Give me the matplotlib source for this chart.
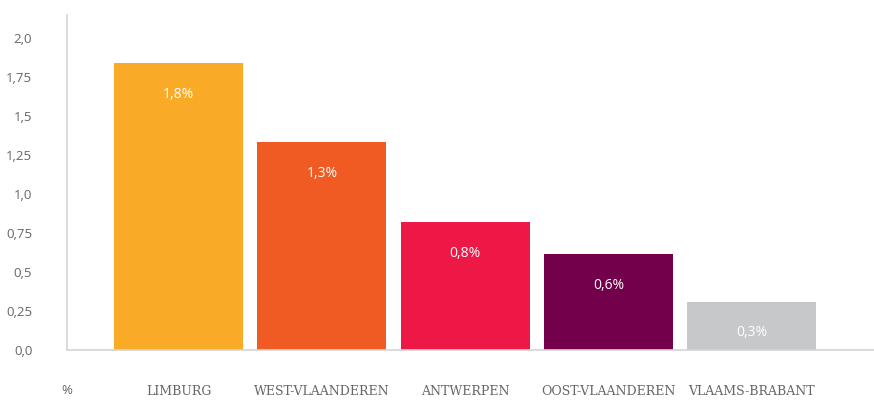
import matplotlib.pyplot as plt

provinces = ["LIMBURG", "WEST-VLAANDEREN", "ANTWERPEN", "OOST-VLAANDEREN", "VLAAMS-BRABANT"]
values = [1.84, 1.33, 0.82, 0.615, 0.31]
value_labels = ["1,8%", "1,3%", "0,8%", "0,6%", "0,3%"]
colors = ["#F9AB28", "#F05A23", "#EE1846", "#72004A", "#C7C8CA"]
yticks = [0, 0.25, 0.5, 0.75, 1.0, 1.25, 1.5, 1.75, 2.0]
ytick_labels = ["0,0", "0,25", "0,5", "0,75", "1,0", "1,25", "1,5", "1,75", "2,0"]

fig = plt.figure(figsize=(8.74, 4.0), dpi=100)
ax = fig.add_axes([67 / 874, 50 / 400, 807 / 874, 335 / 400])

x = range(len(provinces))
ax.bar(x, values, width=0.9, color=colors)
for xi, v, lab in zip(x, values, value_labels):
    ax.annotate(lab, (xi, v), xytext=(0, -17), textcoords="offset points",
                ha="center", va="top", color="white", fontsize=10, family="Open Sans")

ax.set_xlim(-0.78, 4.855)
ax.set_ylim(0, 2.147)
ax.set_yticks(yticks, ytick_labels)
ax.set_xticks(list(x), provinces)
ax.tick_params(axis="y", length=0, pad=25, labelsize=9.5, labelcolor="#666666")
ax.tick_params(axis="x", length=0, pad=25, labelsize=9, labelcolor="#666666")
for lab in ax.get_yticklabels():
    lab.set_family("Open Sans")
for lab in ax.get_xticklabels():
    lab.set_family("DejaVu Serif")

for side in ["top", "right"]:
    ax.spines[side].set_visible(False)
for side in ["left", "bottom"]:
    ax.spines[side].set_color("#d4d4d4")
    ax.spines[side].set_linewidth(1.2)

fig.text(67 / 874, 10 / 400, "%", ha="center", va="center", color="#666666",
         fontsize=9.5, family="Open Sans")

fig.savefig("out.png", dpi=100)
